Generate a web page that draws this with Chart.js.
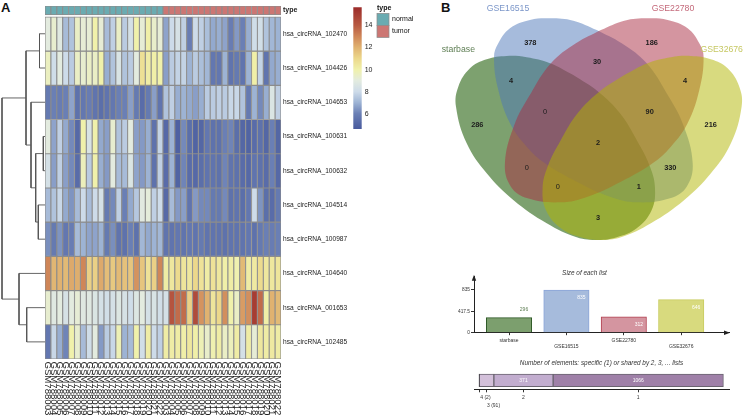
<!DOCTYPE html>
<html>
<head>
<meta charset="utf-8">
<script src="https://cdn.jsdelivr.net/npm/chart.js@4/dist/chart.umd.min.js"></script>
<style>
  html, body { margin: 0; padding: 0; background: #fff; width: 748px; height: 415px; overflow: hidden; }
  body { position: relative; font-family: 'Liberation Sans', Arial, sans-serif; color: #111; }
  canvas { position: absolute; }
  .panel { position: absolute; font-size: 13px; line-height: 13px; font-weight: bold; opacity: 0.999; }
</style>
</head>
<body>
<div class="panel" style="left:1px;top:1px">A</div>
<div class="panel" style="left:441px;top:1px">B</div>

<canvas id="dendro" width="46" height="415" style="left:0;top:0"></canvas>
<canvas id="heat" width="350" height="415" style="left:0;top:0"></canvas>
<canvas id="colorbar" width="90" height="140" style="left:345px;top:0"></canvas>
<canvas id="venn" width="308" height="262" style="left:440px;top:0"></canvas>
<canvas id="sizes" width="318" height="81" style="left:440px;top:269px"></canvas>
<canvas id="shared" width="316" height="56" style="left:440px;top:359px"></canvas>

<script>
const FONT = "'Liberation Sans', Arial, sans-serif";

// heatmap
const rowNames = ['hsa_circRNA_102470', 'hsa_circRNA_104426', 'hsa_circRNA_104653', 'hsa_circRNA_100631', 'hsa_circRNA_100632',
    'hsa_circRNA_104514', 'hsa_circRNA_100987', 'hsa_circRNA_104640', 'hsa_circRNA_001653', 'hsa_circRNA_102485'];
const sampleNames = ['GSM788003', 'GSM788004', 'GSM788005', 'GSM788006', 'GSM788007', 'GSM788008', 'GSM788009', 'GSM788010', 'GSM788011', 'GSM788012',
    'GSM788013', 'GSM788014', 'GSM788015', 'GSM788016', 'GSM788017', 'GSM788018', 'GSM788019', 'GSM788020', 'GSM788021', 'GSM788022',
    'GSM788003', 'GSM788004', 'GSM788005', 'GSM788006', 'GSM788007', 'GSM788008', 'GSM788009', 'GSM788010', 'GSM788011', 'GSM788012',
    'GSM788013', 'GSM788014', 'GSM788015', 'GSM788016', 'GSM788017', 'GSM788018', 'GSM788019', 'GSM788020', 'GSM788021', 'GSM788022'];
const sampleTypes = ['normal', 'normal', 'normal', 'normal', 'normal', 'normal', 'normal', 'normal', 'normal', 'normal',
    'normal', 'normal', 'normal', 'normal', 'normal', 'normal', 'normal', 'normal', 'normal', 'normal',
    'tumor', 'tumor', 'tumor', 'tumor', 'tumor', 'tumor', 'tumor', 'tumor', 'tumor', 'tumor',
    'tumor', 'tumor', 'tumor', 'tumor', 'tumor', 'tumor', 'tumor', 'tumor', 'tumor', 'tumor'];
const row0 = [9.0, 9.3, 8.8, 7.2, 7.4, 9.5, 9.2, 9.2, 10, 9.2, 7.2, 7.7, 9.5, 7.6, 8.3, 10, 9.2, 10.1, 9.4, 9.2,
    6.7, 8.0, 8.4, 7.7, 5.9, 8.0, 7.7, 7.3, 6.8, 6.9, 6.7, 5.9, 6.5, 6.0, 6.9, 8.1, 8.2, 7.4, 7.1, 7.0];
const row1 = [9.6, 8.1, 9, 8, 7.6, 9.5, 9.3, 9.5, 9.5, 10, 6.9, 7.4, 8.5, 7.4, 7.6, 9, 10.7, 10.2, 10.1, 10,
    6.6, 7.6, 7.8, 7.8, 7.0, 7.6, 7.3, 7.1, 5.7, 5.7, 7, 5.6, 5.8, 5.6, 7, 10.1, 7.8, 5.6, 6.8, 6.9];
const row2 = [5.8, 6, 5.9, 6, 6.7, 5.5, 5.7, 5.9, 5.6, 5.4, 5.6, 5.7, 6, 6, 6.6, 5.8, 5.3, 5.8, 6.6, 5.6,
    7.4, 7.7, 6.9, 7, 6.8, 6.6, 6.9, 7.6, 7.6, 7.7, 7.6, 7.9, 7.9, 7.4, 5.8, 7, 6.2, 6.9, 8.6, 7.7];
const row3 = [9, 6.7, 7.7, 6.8, 6.2, 5.2, 10, 8.5, 10, 6.8, 6.6, 9.3, 7.4, 7.6, 9, 6.6, 6.5, 6.9, 5.5, 7.8,
    5.2, 7, 4.9, 6.2, 5.4, 5, 5.1, 5.7, 5.5, 5.5, 6, 6.1, 5.4, 5.1, 5, 5.3, 5.5, 5.1, 6.0, 5.1];
const row4 = [8.3, 6.6, 7.7, 6.6, 6.2, 5.3, 9.7, 7.6, 10, 6.9, 6.5, 9, 7.2, 7.2, 8.6, 6.7, 6.5, 7, 5.5, 7.7,
    5.3, 7, 5, 6.1, 5.3, 5.2, 5.4, 5.6, 5.6, 5.5, 6.1, 5.6, 5.5, 5.3, 5.2, 5.6, 5.5, 5.3, 6, 5.2];
const row5 = [7.2, 7.4, 7.9, 6.8, 6.4, 7.2, 8, 7.2, 8, 8.3, 5.8, 6.2, 7.7, 6, 6.8, 7.5, 8.9, 9.1, 7.7, 8,
    5.2, 7.2, 6.5, 6.6, 5.6, 6.5, 6.2, 6.2, 5.8, 5.8, 6.2, 5.5, 5.6, 5.4, 5.7, 8, 6.4, 5.4, 5.3, 5.8];
const row6 = [6.3, 5.8, 6.4, 5.7, 5.9, 7.2, 7, 6.7, 6.7, 7, 5.8, 6.3, 5.6, 5.5, 6, 5.5, 7.1, 6.8, 7, 7.1,
    5.6, 5.6, 5.7, 5.6, 5.7, 5.6, 5.8, 5.6, 5.6, 5.6, 5.5, 5.6, 5.6, 5.6, 5.7, 5.5, 5.8, 6, 5.9, 6];
const row7 = [13, 11.9, 12, 11.8, 12.2, 12.1, 13, 11.2, 11.2, 12.2, 11.7, 11.4, 11.8, 11.6, 11.5, 12.7, 11.5, 10.6, 11.2, 13,
    10.2, 10.4, 10.9, 10.5, 10.4, 11, 10.6, 10.2, 10.6, 10.4, 10.1, 10.2, 9.9, 11.8, 10.2, 10.3, 10.9, 10.4, 10.4, 10.5];
const row8 = [9.3, 8.8, 9.0, 8.4, 9, 9.2, 8.8, 8.8, 8.6, 8.3, 8.2, 8.3, 8.7, 8.4, 8.1, 8.7, 9, 8.3, 8.5, 8.2,
    8.3, 14.2, 13.6, 13.6, 11.2, 14.5, 12.7, 12, 10.5, 11, 12.8, 10, 9.5, 12.5, 12.8, 15, 13.6, 10.1, 12, 11.8];
const row9 = [5.7, 7.9, 6.9, 6.1, 10, 9.3, 7.2, 8.1, 9, 6.5, 7.6, 7.9, 9.8, 7, 7.2, 10, 8.2, 10.2, 8, 7.7,
    10.2, 10.2, 10.2, 10.1, 10.4, 10.1, 9.8, 9.4, 9.9, 10.2, 9.5, 9.7, 10.2, 8.3, 10.2, 9.2, 10.4, 10.2, 10.3, 10.2];
const heatRows = [row0, row1, row2, row3, row4, row5, row6, row7, row8, row9];

// row dendrogram: [left, right, height], a number >= 100 points back at merge (n - 100)
const rowMerges = [[0, 1, 5.5], [3, 4, 1.7], [5, 6, 6.7], [101, 102, 9.3], [2, 103, 14], [100, 104, 19],
    [8, 9, 18.3], [7, 106, 26], [105, 107, 43]];

const colorTicks = [6, 8, 10, 12, 14];
const heatStops = [[4.7, '#4a5c9e'], [6, '#6a7fb5'], [7, '#9db3d4'], [8, '#cddbe9'], [9, '#e3ebdf'], [10, '#f0f1ab'],
    [11, '#ecd88b'], [12, '#e0b270'], [13, '#cf8658'], [14, '#b85a42'], [15.6, '#9c2c2a']];
const typeNames = ['normal', 'tumor'];
const typeColors = {normal: '#6aabb1', tumor: '#cc7673'};

const setNames = ['starbase', 'GSE16515', 'GSE22780', 'GSE32676'];
const setFill = ['rgba(52,108,30,0.64)', 'rgba(77,119,186,0.5)', 'rgba(170,43,65,0.5)', 'rgba(177,181,0,0.5)'];
const setText = ['#5f7f55', '#7b96c9', '#c4697a', '#c6c863'];
const setEdge = ['#2f5a27', '#8aa5d8', '#b34050', '#c8cc60'];
const setLight = ['#7c9f6e', '#a6bbdc', '#d495a0', '#d8da7e'];
const starbaseX = [573.3, 598.3, 620, 636.7, 650, 655, 651.7, 636.7, 616.7, 598.3, 576.7, 546.7, 513.3, 486.7, 466.7, 456, 458.3, 470, 486.7, 506.7, 526.7, 550, 573.3];
const starbaseY = [75, 91.7, 113.3, 140, 166.7, 188.3, 210, 228.3, 237.3, 240, 237.3, 223.3, 200, 173.3, 143.3, 106.7, 86.7, 68.3, 59.3, 56, 57.3, 63.3, 75];
const gse32676X = [624.3, 599.3, 577.6, 560.9, 547.6, 542.6, 545.9, 560.9, 580.9, 599.3, 620.9, 650.9, 684.3, 710.9, 730.9, 741.6, 739.3, 727.6, 710.9, 690.9, 670.9, 647.6, 624.3];
const gse32676Y = starbaseY;
const gse16515X = [596.7, 621.7, 646.7, 666.7, 683.3, 692.7, 686.7, 670, 636.7, 610, 576.7, 545, 526.7, 510, 498.3, 494, 498.3, 510, 530, 550, 573.3, 596.7];
const gse16515Y = [30, 43.3, 63.3, 93.3, 125, 163.3, 186.7, 198.3, 202.3, 196.7, 181.7, 163.3, 146.7, 123.3, 90, 57.3, 43.3, 28.3, 20, 18.3, 20.7, 30];
const gse22780X = [600.9, 575.9, 550.9, 530.9, 514.3, 504.9, 510.9, 527.6, 560.9, 587.6, 620.9, 652.6, 670.9, 687.6, 699.3, 703.6, 699.3, 687.6, 667.6, 647.6, 624.3, 600.9];
const gse22780Y = gse16515Y;
const setOutlineX = [starbaseX, gse16515X, gse22780X, gse32676X];
const setOutlineY = [starbaseY, gse16515Y, gse22780Y, gse32676Y];
const setLabelX = [458.3, 508, 673, 721.7];
const setLabelY = [49.7, 8.7, 8.7, 49.7];
const regionCounts = [378, 186, 4, 30, 4, 286, 0, 90, 216, 2, 0, 330, 0, 1, 3];
const regionX = [530.3, 651.7, 511, 597, 685, 477.3, 545, 649.7, 710.7, 598, 526.7, 670.3, 557.7, 638.7, 598];
const regionY = [43.3, 43.3, 81, 62, 81, 124.7, 112, 112, 124.7, 143.3, 168, 168, 186.7, 186.7, 218];

// bars
const listSizes = [296, 835, 312, 646];
const sizeTicks = [0, 417.5, 835];
const sharedTitle = 'Number of elements: specific (1) or shared by 2, 3, ... lists';
const sharedCounts = [2, 91, 371, 1066];
const sharedNames = ['4 (2)', '3 (91)', '2', '1'];
const sharedFill = ['#3c3a40', '#d3c0da', '#c2adcf', '#9f80a8'];
const sharedEdge = ['#333', '#6a6470', '#6a6470', '#6a6470'];

Chart.defaults.font.family = FONT;
Chart.defaults.animation = false;
Chart.defaults.responsive = false;
Chart.defaults.plugins.legend.display = false;
Chart.defaults.plugins.tooltip.enabled = false;
Chart.defaults.events = [];

function mix(a, b, t) {
    const pa = parseInt(a.slice(1), 16), pb = parseInt(b.slice(1), 16);
    const ch = s => Math.round(((pa >> s) & 255) * (1 - t) + ((pb >> s) & 255) * t);
    return `rgb(${ch(16)},${ch(8)},${ch(0)})`;
}

function heatColor(v) {
    for (let i = 1; i < heatStops.length; i++) {
        if (v <= heatStops[i][0]) {
            const [v0, c0] = heatStops[i - 1], [v1, c1] = heatStops[i];
            return mix(c0, c1, Math.max(0, (v - v0) / (v1 - v0)));
        }
    }
    return heatStops[heatStops.length - 1][1];
}

const ROW_MIN = -0.32;

// dendrogram, same row scale as the heatmap
function rowCentre(node) {
    if (node < 100) return node + 0.5;
    const m = rowMerges[node - 100];
    return (rowCentre(m[0]) + rowCentre(m[1])) / 2;
}
function nodeHeight(node) {
    return node < 100 ? 0 : rowMerges[node - 100][2];
}

new Chart(document.getElementById('dendro'), {
    type: 'scatter',
    data: {
        datasets: rowMerges.map(m => ({
            data: [
                {x: nodeHeight(m[0]), y: rowCentre(m[0])},
                {x: m[2], y: rowCentre(m[0])},
                {x: m[2], y: rowCentre(m[1])},
                {x: nodeHeight(m[1]), y: rowCentre(m[1])}
            ],
            showLine: true,
            borderColor: '#555',
            borderWidth: 0.9,
            pointRadius: 0
        }))
    },
    options: {
        layout: {padding: {top: 5.7, bottom: 56, right: 1}},
        scales: {
            x: {type: 'linear', reverse: true, min: 0, max: 45, display: false},
            y: {type: 'linear', reverse: true, min: ROW_MIN, max: 10, display: false}
        }
    }
});

// heatmap with the annotation strip on top
const rowTickValues = [-0.19, ...rowNames.map((_, i) => i + 0.5)];
const rowTickLabels = ['type', ...rowNames];

const sampleLabels = {
    id: 'sampleLabels',
    afterDraw(chart) {
        const {ctx, chartArea, scales} = chart;
        ctx.save();
        ctx.font = `9.6px ${FONT}`;
        ctx.fillStyle = '#222';
        ctx.textBaseline = 'middle';
        sampleNames.forEach((name, i) => {
            ctx.save();
            ctx.translate(scales.x.getPixelForValue(i), chartArea.bottom + 2.5);
            ctx.rotate(Math.PI / 2);
            ctx.fillText(name, 0, 0);
            ctx.restore();
        });
        ctx.restore();
    }
};

const cellBorder = {borderColor: '#8c8c8c', borderWidth: 0.9, borderSkipped: false, grouped: false, barPercentage: 1, categoryPercentage: 1};

new Chart(document.getElementById('heat'), {
    type: 'bar',
    data: {
        labels: sampleNames,
        datasets: [
            {...cellBorder, data: sampleTypes.map(() => [ROW_MIN, -0.06]), backgroundColor: sampleTypes.map(t => typeColors[t])},
            ...heatRows.map((values, r) => ({...cellBorder, data: values.map(() => [r, r + 1]), backgroundColor: values.map(heatColor)}))
        ]
    },
    options: {
        layout: {padding: {left: 45, top: 5.7}},
        scales: {
            x: {
                grid: {display: false},
                border: {display: false},
                ticks: {display: false},
                afterFit: s => { s.height = 56; }
            },
            y: {
                type: 'linear',
                position: 'right',
                reverse: true,
                min: ROW_MIN,
                max: 10,
                grid: {display: false, drawTicks: false},
                border: {display: false},
                afterBuildTicks: s => { s.ticks = rowTickValues.map(value => ({value})); },
                afterFit: s => { s.width = 69; },
                ticks: {
                    padding: 2,
                    autoSkip: false,
                    color: '#222',
                    callback: (value, i) => rowTickLabels[i],
                    font: c => c.index === 0 ? {size: 7, weight: 'bold'} : {size: 6.6}
                }
            }
        }
    },
    plugins: [sampleLabels]
});

// colour key and the type legend next to it
const typeLegend = {
    id: 'typeLegend',
    afterDraw(chart) {
        const {ctx} = chart;
        ctx.save();
        ctx.textBaseline = 'middle';
        ctx.fillStyle = '#111';
        ctx.font = `bold 7px ${FONT}`;
        ctx.fillText('type', 32, 8.2);
        typeNames.forEach((name, i) => {
            ctx.fillStyle = typeColors[name];
            ctx.strokeStyle = '#8c8c8c';
            ctx.lineWidth = 0.75;
            ctx.fillRect(32, 13.4 + i * 12, 12, 12);
            ctx.strokeRect(32, 13.4 + i * 12, 12, 12);
            ctx.fillStyle = '#111';
            ctx.font = `7px ${FONT}`;
            ctx.fillText(name, 47, 19.4 + i * 12);
        });
        ctx.restore();
    }
};

new Chart(document.getElementById('colorbar'), {
    type: 'bar',
    data: {
        labels: ['expression'],
        datasets: [{
            data: [[4.62, 15.65]],
            barPercentage: 1,
            categoryPercentage: 1,
            backgroundColor: c => {
                const y = c.chart.scales.y;
                const bottom = y ? y.getPixelForValue(4.62) : NaN;
                if (!isFinite(bottom) || !c.chart.chartArea) return '#ccc';
                const g = c.chart.ctx.createLinearGradient(0, bottom, 0, y.getPixelForValue(15.65));
                heatStops.forEach(([v, col]) => g.addColorStop(Math.min(1, Math.max(0, (v - 4.62) / 11.03)), col));
                return g;
            }
        }]
    },
    options: {
        layout: {padding: {left: 8.3, top: 5, bottom: 11, right: 50}},
        scales: {
            x: {display: false},
            y: {
                type: 'linear',
                position: 'right',
                min: 4.62,
                max: 15.65,
                grid: {display: false, drawTicks: false},
                border: {display: false},
                afterBuildTicks: s => { s.ticks = colorTicks.map(value => ({value})); },
                afterFit: s => { s.width = 23.3; },
                ticks: {padding: 3, color: '#222', font: {size: 7}}
            }
        }
    },
    plugins: [typeLegend]
});

// venn
const vennText = {
    id: 'vennText',
    afterDatasetsDraw(chart) {
        const {ctx, scales: {x, y}} = chart;
        ctx.save();
        ctx.textAlign = 'center';
        ctx.textBaseline = 'middle';
        ctx.font = `8.7px ${FONT}`;
        setNames.forEach((name, i) => {
            ctx.fillStyle = setText[i];
            ctx.fillText(name, x.getPixelForValue(setLabelX[i]), y.getPixelForValue(setLabelY[i]));
        });
        ctx.fillStyle = '#1c1c1c';
        regionCounts.forEach((n, i) => {
            ctx.font = `${n === 0 ? 'normal' : 'bold'} 7.4px ${FONT}`;
            ctx.fillText(n, x.getPixelForValue(regionX[i]), y.getPixelForValue(regionY[i]));
        });
        ctx.restore();
    }
};

new Chart(document.getElementById('venn'), {
    type: 'scatter',
    data: {
        datasets: setNames.map((name, i) => ({
            label: name,
            data: setOutlineX[i].map((x, k) => ({x, y: setOutlineY[i][k]})),
            showLine: true,
            fill: 'shape',
            tension: 0.4,
            borderWidth: 0,
            pointRadius: 0,
            backgroundColor: setFill[i],
            order: setNames.length - i
        }))
    },
    options: {
        scales: {
            x: {type: 'linear', min: 440, max: 748, display: false},
            y: {type: 'linear', reverse: true, min: 0, max: 262, display: false}
        }
    },
    plugins: [vennText]
});

// size of each list
const sizeLabelColor = ['#5f7f55', '#fff', '#fff', '#fff'];
const arrows = {
    id: 'arrows',
    afterDraw(chart) {
        const {ctx, chartArea: a} = chart;
        ctx.save();
        ctx.fillStyle = '#222';
        ctx.beginPath();
        ctx.moveTo(a.left, a.top - 2);
        ctx.lineTo(a.left - 2.2, a.top + 4);
        ctx.lineTo(a.left + 2.2, a.top + 4);
        ctx.fill();
        ctx.beginPath();
        ctx.moveTo(a.right + 1, a.bottom);
        ctx.lineTo(a.right - 5, a.bottom - 2.2);
        ctx.lineTo(a.right - 5, a.bottom + 2.2);
        ctx.fill();
        ctx.restore();
    }
};
const sizeLabels = {
    id: 'sizeLabels',
    afterDatasetsDraw(chart) {
        const {ctx, scales: {x, y}} = chart;
        ctx.save();
        ctx.font = `5px ${FONT}`;
        ctx.textAlign = 'center';
        ctx.textBaseline = 'middle';
        listSizes.forEach((v, i) => {
            ctx.fillStyle = sizeLabelColor[i];
            ctx.fillText(v, x.getPixelForValue(i) + 15, y.getPixelForValue(v) + (i === 0 ? -7.6 : 7.6));
        });
        ctx.restore();
    }
};

new Chart(document.getElementById('sizes'), {
    type: 'bar',
    data: {
        datasets: [{
            data: listSizes.map((v, i) => ({x: i, y: v})),
            backgroundColor: setLight,
            borderColor: setEdge,
            borderWidth: 1,
            borderSkipped: 'bottom',
            barThickness: 45.4
        }]
    },
    options: {
        layout: {padding: {right: 29}},
        plugins: {
            title: {
                display: true,
                text: 'Size of each list',
                fullSize: true,
                color: '#333',
                font: {size: 6.4, style: 'italic', weight: 'normal'},
                padding: 0
            }
        },
        scales: {
            x: {
                type: 'linear',
                offset: false,
                min: -0.61,
                max: 3.833,
                grid: {drawOnChartArea: false, offset: false, tickLength: 2.5, color: '#333'},
                border: {color: '#222', width: 1},
                afterBuildTicks: s => { s.ticks = setNames.map((_, i) => ({value: i})); },
                afterFit: s => { s.height = 17.3; },
                ticks: {
                    padding: 2,
                    maxRotation: 0,
                    autoSkip: false,
                    color: '#333',
                    font: {size: 5, lineHeight: 1.2},
                    callback: (value, i) => i % 2 ? ['', setNames[i]] : setNames[i]
                }
            },
            y: {
                type: 'linear',
                min: 0,
                max: 1095,
                grid: {drawOnChartArea: false, tickLength: 3, color: '#333'},
                border: {color: '#222', width: 1},
                afterBuildTicks: s => { s.ticks = sizeTicks.map(value => ({value})); },
                afterFit: s => { s.width = 34; },
                ticks: {padding: 1, color: '#333', font: {size: 4.8}, callback: v => v}
            }
        }
    },
    plugins: [sizeLabels, arrows]
});

// shared elements strip
const sharedTotal = sharedCounts.reduce((a, b) => a + b, 0);
const sharedMids = sharedCounts.map((n, i) => sharedCounts.slice(0, i).reduce((a, b) => a + b, 0) + n / 2);
const sharedLabels = {
    id: 'sharedLabels',
    afterDatasetsDraw(chart) {
        const {ctx, scales: {x, y}} = chart;
        ctx.save();
        ctx.font = `5px ${FONT}`;
        ctx.fillStyle = '#fff';
        ctx.textAlign = 'center';
        ctx.textBaseline = 'middle';
        sharedCounts.forEach((n, i) => {
            if (n > 100) ctx.fillText(n, x.getPixelForValue(sharedMids[i]), y.getPixelForValue(0));
        });
        ctx.restore();
    }
};

new Chart(document.getElementById('shared'), {
    type: 'bar',
    data: {
        labels: ['shared'],
        datasets: sharedCounts.map((n, i) => ({
            data: [n],
            backgroundColor: sharedFill[i],
            borderColor: sharedEdge[i],
            borderWidth: 1,
            borderSkipped: false,
            barThickness: 12.7,
            stack: 'all'
        }))
    },
    options: {
        indexAxis: 'y',
        layout: {padding: {left: 34, right: 27}},
        plugins: {
            title: {
                display: true,
                text: sharedTitle,
                color: '#333',
                font: {size: 6.4, style: 'italic', weight: 'normal'},
                padding: {top: 0, bottom: 4.9}
            }
        },
        scales: {
            x: {
                type: 'linear',
                stacked: true,
                min: -31.3,
                max: sharedTotal + 35,
                grid: {drawOnChartArea: false, tickLength: 3, color: '#333'},
                border: {color: '#222', width: 1},
                afterBuildTicks: s => { s.ticks = sharedMids.map(value => ({value})); },
                afterFit: s => { s.height = 25.7; },
                ticks: {
                    padding: 2,
                    maxRotation: 0,
                    autoSkip: false,
                    color: '#333',
                    font: {size: 5, lineHeight: 1.5},
                    callback: (value, i) => i === 1 ? ['', '          ' + sharedNames[i]] : i === 0 ? '         ' + sharedNames[i] : sharedNames[i]
                }
            },
            y: {stacked: true, display: false}
        }
    },
    plugins: [sharedLabels]
});
</script>
</body>
</html>
